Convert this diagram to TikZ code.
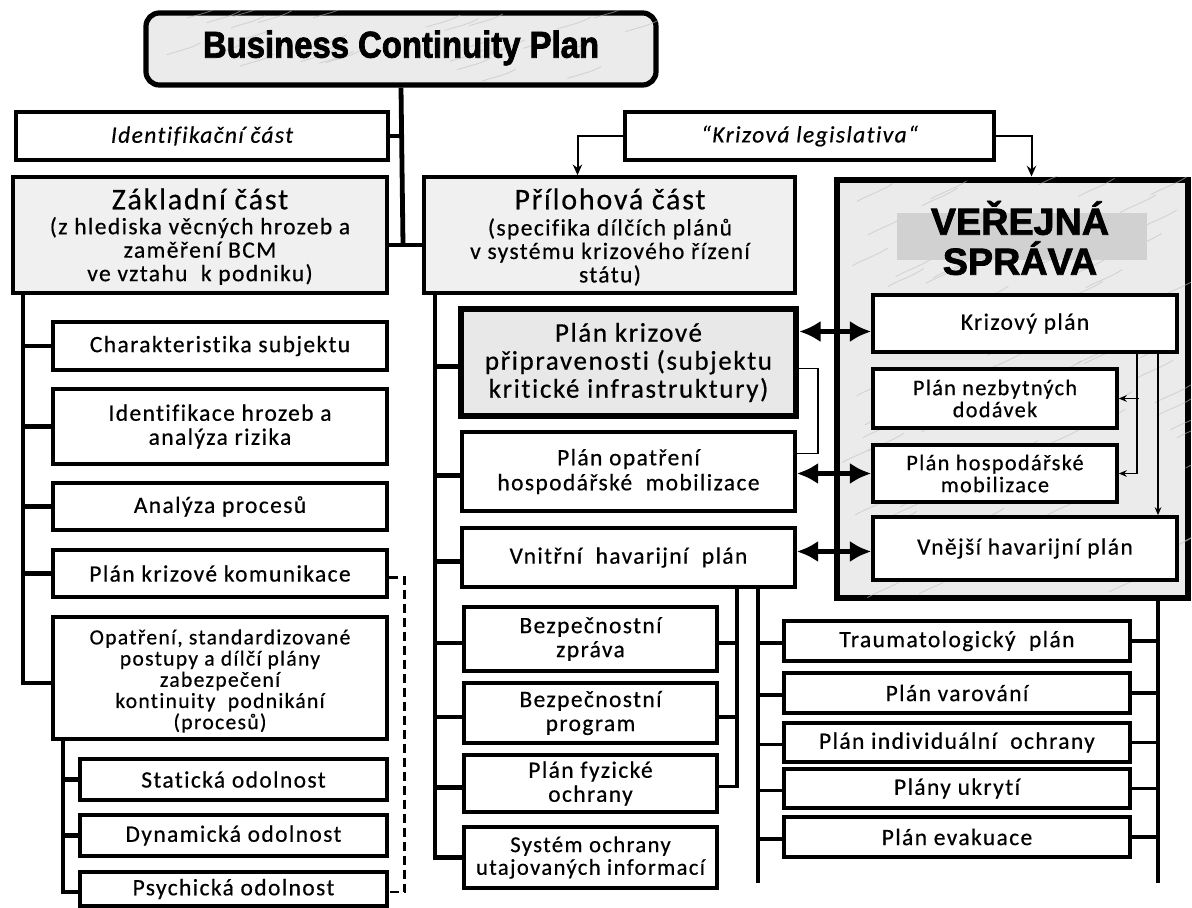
\documentclass[tikz,border=0pt]{standalone}
\usepackage{fontspec}
\setmainfont{Carlito}[LetterSpace=6, FakeBold=0.5, Ligatures=NoCommon]
\newfontfamily\titlefont{Liberation Sans}[UprightFont={* Bold}, FakeBold=2, FakeStretch=0.88]
\newfontfamily\vsfont{Liberation Sans}[UprightFont={* Bold}, FakeBold=2]
\usetikzlibrary{arrows.meta,fit,calc}
\begin{document}
\begin{tikzpicture}[x=0.75pt,y=-0.75pt,
  box/.style={draw, line width=2.7pt, fill=white, inner sep=0pt},
  graybox/.style={box, fill=black!6},
  marble/.style={fill=black!8},
  tx/.style={align=center, inner sep=0pt, font=\fontsize{17.6pt}{18pt}\selectfont},
  txs/.style={align=center, inner sep=0pt, font=\fontsize{16.2pt}{15.9pt}\selectfont},
  spine/.style={line width=3.6pt},
  spinethin/.style={line width=2.4pt},
  thinl/.style={line width=1.3pt},
  dbl/.style={line width=3.8pt, {Latex[length=16pt,width=16pt]}-{Latex[length=16pt,width=16pt]}},
  arr/.style={line width=1.5pt, -{Stealth[length=8pt,width=7pt]}},
  sarr/.style={line width=1.2pt, -{Stealth[length=6pt,width=5pt]}},
  vein/.style={draw=black!25, line width=0.6pt, opacity=0.6}
]
\useasboundingbox (0,0) rectangle (1192,907);
\fill[white] (0,0) rectangle (1192,907);

% ---- title
\node[draw, line width=3.9pt, rounded corners=10pt, marble, inner sep=0pt,
  fit={(146,13) (656,85)}] (title) {};
\begin{scope}
\clip[rounded corners=10pt] (title.south west) rectangle (title.north east);
\pgfmathsetseed{11}
\foreach \i in {1,...,30}{
  \pgfmathsetmacro\vx{146+rnd*510}\pgfmathsetmacro\vy{13+rnd*72}
  \draw[vein] (\vx,\vy) .. controls +(12,-4) and +(-10,6) .. +(34,-12);}
\end{scope}
\node[font=\titlefont\fontsize{28pt}{28pt}\selectfont] (titletext) at (401,48) {Business Continuity Plan};

% ---- second row
\node[box, fit={(16,112) (388,160)}] (idc) {};
\node[tx, font=\itshape\fontsize{17.6pt}{18pt}\selectfont] (idct) at (idc.center) {Identifikační část};
\node[box, fit={(625,112) (994,160)}] (kl) {};
\node[tx, font=\itshape\fontsize{17.6pt}{18pt}\selectfont] (klt) at (kl.center) {“Krizová legislativa“};

\node[graybox, fit={(13,177) (387,293)}] (zak) {};
\node[tx, font=\fontsize{22.5pt}{22.5pt}\selectfont] (zakt) at (200,199) {Základní část};
\node[tx, font=\fontsize{17.6pt}{17.6pt}\selectfont] (zaks) at (200,251) {(z hlediska věcných hrozeb a\\zaměření BCM\\ve vztahu\ \ k podniku)};

\node[graybox, fit={(424,177) (795,293)}] (prl) {};
\node[tx, font=\fontsize{22.5pt}{22.5pt}\selectfont] (prlt) at (610,199) {Přílohová část};
\node[tx, font=\fontsize{17.6pt}{17.6pt}\selectfont] (prls) at (610,252) {(specifika dílčích plánů\\v systému krizového řízení\\státu)};

% ---- Veřejná správa
\node[draw, line width=5.2pt, marble, inner sep=0pt, fit={(837,180) (1188,598)}] (vs) {};
\begin{scope}
\clip (vs.south west) rectangle (vs.north east);
\pgfmathsetseed{5}
\foreach \i in {1,...,90}{
  \pgfmathsetmacro\vx{837+rnd*351}\pgfmathsetmacro\vy{180+rnd*418}
  \draw[vein] (\vx,\vy) .. controls +(10,-6) and +(-12,8) .. +(36,-18);}
\end{scope}
\node[fill=black!18, inner sep=0pt, fit={(897,213) (1147,260)}] (vsband) {};
\node[align=center, inner sep=0pt, font=\vsfont\fontsize{28.3pt}{30pt}\selectfont] (vst) at (1020,238) {VEŘEJNÁ\\SPRÁVA};

\node[box, fit={(873,295) (1177,352)}] (krp) {};
\node[tx] at (krp.center) {Krizový plán};
\node[box, fit={(873,369) (1117,428)}] (pnd) {};
\node[txs, font=\fontsize{16.7pt}{16.5pt}\selectfont] at (pnd.center) {Plán nezbytných\\dodávek};
\node[box, fit={(873,445) (1117,502)}] (phm) {};
\node[txs, font=\fontsize{16.7pt}{16.5pt}\selectfont] at (phm.center) {Plán hospodářské\\mobilizace};
\node[box, fit={(873,517) (1177,580)}] (vhp) {};
\node[tx] at (vhp.center) {Vnější havarijní plán};

% ---- middle column
\node[draw, line width=4.8pt, fill=black!9, inner sep=0pt, fit={(461,309) (796,416)}] (pkp) {};
\node[tx, font=\fontsize{20.25pt}{21pt}\selectfont] at (pkp.center) {Plán krizové\\připravenosti (subjektu\\kritické infrastruktury)};
\node[box, fit={(462,432) (795,511)}] (poh) {};
\node[tx, font=\fontsize{17.6pt}{18.75pt}\selectfont] at (poh.center) {Plán opatření\\hospodářské\ \ mobilizace};
\node[box, fit={(462,528) (795,587)}] (vnh) {};
\node[tx] at (vnh.center) {Vnitřní\ \ havarijní\ \ plán};

\node[box, fit={(464,607) (717,671)}] (bz) {};
\node[tx] at (bz.center) {Bezpečnostní\\zpráva};
\node[box, fit={(464,683) (717,743)}] (bp) {};
\node[tx] at (bp.center) {Bezpečnostní\\program};
\node[box, fit={(464,755) (717,812)}] (pfo) {};
\node[tx] at (pfo.center) {Plán fyzické\\ochrany};
\node[box, fit={(464,827) (717,888)}] (sou) {};
\node[txs, font=\fontsize{17pt}{17pt}\selectfont] at (sou.center) {Systém ochrany\\utajovaných informací};

% ---- right lower column
\node[box, fit={(784,621) (1130,661)}] (tp) {};
\node[tx] at (tp.center) {Traumatologický\ \ plán};
\node[box, fit={(784,673) (1130,713)}] (pv) {};
\node[tx] at (pv.center) {Plán varování};
\node[box, fit={(784,723) (1130,762)}] (pio) {};
\node[tx] at (pio.center) {Plán individuální\ \ ochrany};
\node[box, fit={(784,769) (1130,808)}] (pu) {};
\node[tx] at (pu.center) {Plány ukrytí};
\node[box, fit={(784,817) (1130,857)}] (pe) {};
\node[tx] at (pe.center) {Plán evakuace};

% ---- left column
\node[box, fit={(53,322) (387,370)}] (ch) {};
\node[tx] at (ch.center) {Charakteristika subjektu};
\node[box, fit={(53,389) (387,464)}] (ih) {};
\node[tx] at (ih.center) {Identifikace hrozeb a\\analýza rizika};
\node[box, fit={(53,483) (387,530)}] (ap) {};
\node[tx] at (ap.center) {Analýza procesů};
\node[box, fit={(53,550) (387,597)}] (pkk) {};
\node[tx] at (pkk.center) {Plán krizové komunikace};
\node[box, fit={(53,617) (387,739)}] (op) {};
\node[txs] at ($(op.center)+(0,3)$) {Opatření, standardizované\\postupy a dílčí plány\\zabezpečení\\kontinuity\ \ podnikání\\(procesů)};
\node[box, fit={(80,759) (387,800)}] (st) {};
\node[tx] at (st.center) {Statická odolnost};
\node[box, fit={(80,815) (387,856)}] (dy) {};
\node[tx] at (dy.center) {Dynamická odolnost};
\node[box, fit={(80,872) (387,906)}] (ps) {};
\node[tx] at (233.5,889) {Psychická odolnost};

% ---- coordinates for spines
\coordinate (hub) at (403,245);
\coordinate (lsp) at (23,300);
\coordinate (lsub) at (63,750);
\coordinate (msp) at (435,300);
\coordinate (c737) at (737,600);
\coordinate (c758) at (758,883);
\coordinate (c1158) at (1158,883);

% ---- connectors: top
\draw[spine] (title.south) -- (hub);
\draw[spine] (idc.east) -- (idc.east -| hub);
\draw[spine] (zak.east |- hub) -- (prl.west |- hub);
\draw[arr] (kl.west) -| ($(prl.north)+(-32,0)$);
\draw[arr] (kl.east) -| ($(vs.north)+(19,0)$);

% ---- left
\draw[spine] (zak.south -| lsp) |- ($(op.west)+(0,5)$);
\foreach \n in {ch,ih,ap,pkk} \draw[spine] (\n.west -| lsp) -- (\n.west);
\draw[spine] (op.south -| lsub) |- ($(ps.west)+(0,3)$);
\foreach \n in {st,dy} \draw[spine] (\n.west -| lsub) -- (\n.west);
\draw[line width=2.2pt, dash pattern=on 7pt off 3.5pt] ($(pkk.east)+(0,4)$) -- ++(16,0) |- ($(ps.east)+(0,3)$);

% ---- middle
\draw[spine] (prl.south -| msp) |- (sou.west);
\foreach \n in {pkp,poh,vnh,bz,bp,pfo} \draw[spine] ($(\n.west -| msp)+(0,4)$) -- ($(\n.west)+(0,4)$);
\draw[thinl] ($(pkp.east)+(0,6)$) -- ++(19,0) |- ($(poh.east)+(0,-18)$);
\draw[spinethin] (vnh.south -| c737) |- ($(pfo.east)+(0,3)$);
\foreach \n in {bz,bp} \draw[spinethin] ($(\n.east)+(0,4)$) -- ($(\n.east -| c737)+(0,4)$);
\draw[spinethin] (vnh.south -| c758) -- (c758);
\foreach \n in {tp,pv,pio,pu,pe} \draw[spinethin] ($(\n.west -| c758)+(0,2)$) -- ($(\n.west)+(0,2)$);
\draw[spinethin] (vs.south -| c1158) -- (c1158);
\foreach \n in {tp,pv,pio,pu,pe} \draw[spinethin] (\n.east) -- (\n.east -| c1158);

% ---- double arrows
\draw[dbl] ($(pkp.east |- krp.west)+(0,8)$) -- ($(krp.west)+(0,8)$);
\draw[dbl] (poh.east |- phm.west) -- (phm.west);
\draw[dbl] ($(vnh.east |- vhp.west)+(0,3)$) -- ($(vhp.west)+(0,3)$);

% ---- inside Veřejná správa
\draw[sarr] ($(krp.south)+(112,0)$) |- (phm.east);
\draw[sarr] ($(pnd.east)+(20,0)$) -- (pnd.east);
\draw[sarr] ($(krp.south)+(133,0)$) -- ($(vhp.north)+(133,0)$);
\end{tikzpicture}
\end{document}
